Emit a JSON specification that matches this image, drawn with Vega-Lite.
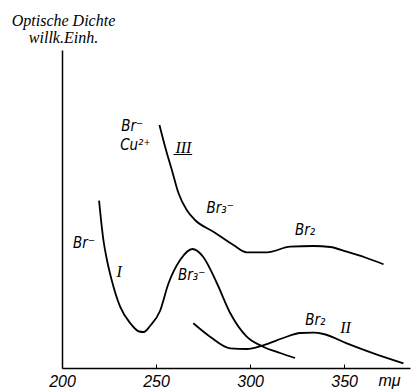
{
  "$schema": "https://vega.github.io/schema/vega-lite/v6.json",
  "width": 348,
  "height": 318,
  "autosize": {"type": "none"},
  "padding": {"left": 62, "top": 50, "right": 10, "bottom": 23},
  "background": "white",
  "config": {"view": {"stroke": null}},
  "datasets": {
    "curves": [
      {"s": "I", "x": 219.7, "y": 167.3},
      {"s": "I", "x": 222.0, "y": 128},
      {"s": "I", "x": 223.9, "y": 108},
      {"s": "I", "x": 226.4, "y": 88},
      {"s": "I", "x": 230.9, "y": 61.3},
      {"s": "I", "x": 236.2, "y": 45},
      {"s": "I", "x": 241.0, "y": 36.5},
      {"s": "I", "x": 243.5, "y": 36},
      {"s": "I", "x": 246.8, "y": 42},
      {"s": "I", "x": 252.1, "y": 57},
      {"s": "I", "x": 256.5, "y": 84},
      {"s": "I", "x": 262.8, "y": 108},
      {"s": "I", "x": 269.3, "y": 119},
      {"s": "I", "x": 275.0, "y": 111.3},
      {"s": "I", "x": 282.3, "y": 85},
      {"s": "I", "x": 289.4, "y": 55},
      {"s": "I", "x": 298.2, "y": 31.3},
      {"s": "I", "x": 306.9, "y": 21.3},
      {"s": "I", "x": 316.0, "y": 15},
      {"s": "I", "x": 323.9, "y": 10},
      {"s": "II", "x": 269.8, "y": 44.7},
      {"s": "II", "x": 278.7, "y": 31.3},
      {"s": "II", "x": 289.4, "y": 19.7},
      {"s": "II", "x": 298.2, "y": 19},
      {"s": "II", "x": 306.9, "y": 22.7},
      {"s": "II", "x": 317.6, "y": 30},
      {"s": "II", "x": 326.6, "y": 35},
      {"s": "II", "x": 333.7, "y": 35.3},
      {"s": "II", "x": 339.0, "y": 34},
      {"s": "II", "x": 351.4, "y": 24.7},
      {"s": "II", "x": 365.6, "y": 14.7},
      {"s": "II", "x": 381.5, "y": 4.7},
      {"s": "III", "x": 251.8, "y": 243},
      {"s": "III", "x": 254.8, "y": 221.3},
      {"s": "III", "x": 258.4, "y": 198},
      {"s": "III", "x": 261.9, "y": 175},
      {"s": "III", "x": 266.3, "y": 158},
      {"s": "III", "x": 270.7, "y": 148},
      {"s": "III", "x": 280.5, "y": 136.3},
      {"s": "III", "x": 291.1, "y": 123},
      {"s": "III", "x": 298.2, "y": 115.7},
      {"s": "III", "x": 308.9, "y": 115.7},
      {"s": "III", "x": 321.3, "y": 121.3},
      {"s": "III", "x": 333.7, "y": 122},
      {"s": "III", "x": 342.6, "y": 121},
      {"s": "III", "x": 351.4, "y": 116.3},
      {"s": "III", "x": 361.2, "y": 110.5},
      {"s": "III", "x": 370.9, "y": 103.7}
    ],
    "labels": [
      {"t": "Br⁻", "x": 205.9, "y": 120, "f": "sans"},
      {"t": "I", "x": 229.0, "y": 91, "f": "roman"},
      {"t": "Br₃⁻", "x": 261.7, "y": 88, "f": "sans"},
      {"t": "Br⁻", "x": 231.5, "y": 237, "f": "sans"},
      {"t": "Cu²⁺", "x": 230.9, "y": 218, "f": "sans"},
      {"t": "I̲I̲I̲", "x": 260.3, "y": 215, "f": "roman"},
      {"t": "Br₃⁻", "x": 276.8, "y": 155, "f": "sans"},
      {"t": "Br₂", "x": 323.9, "y": 133, "f": "sans"},
      {"t": "Br₂", "x": 329.3, "y": 43, "f": "sans"},
      {"t": "II", "x": 347.9, "y": 35, "f": "roman"}
    ]
  },
  "layer": [
    {
      "data": {"name": "curves"},
      "mark": {"type": "line", "color": "black", "strokeWidth": 1.8, "interpolate": "monotone"},
      "encoding": {
        "x": {
          "field": "x", "type": "quantitative",
          "scale": {"domain": [200, 385], "nice": false, "zero": false},
          "axis": {
            "values": [200, 250, 300, 350],
            "grid": false,
            "domainColor": "black", "domainWidth": 1.5,
            "tickColor": "black", "tickSize": -4, "tickWidth": 1,
            "labelFont": "Liberation Sans", "labelFontStyle": "italic", "labelFontSize": 16,
            "labelColor": "black", "labelPadding": 9, "labelFlush": false,
            "title": "mμ", "titleFont": "Liberation Sans", "titleFontStyle": "italic",
            "titleFontWeight": "normal", "titleFontSize": 16, "titleColor": "black",
            "titleX": 327, "titleY": 17, "titleAlign": "center", "titleBaseline": "alphabetic"
          }
        },
        "y": {
          "field": "y", "type": "quantitative",
          "scale": {"domain": [0, 318], "nice": false},
          "axis": {
            "grid": false, "ticks": false, "labels": false,
            "domainColor": "black", "domainWidth": 1.5,
            "title": ["Optische Dichte", "willk.Einh."],
            "titleAngle": 0, "titleX": 1, "titleY": -25,
            "titleAlign": "center", "titleBaseline": "alphabetic",
            "titleFont": "Liberation Sans Narrow", "titleFontStyle": "italic",
            "titleFontWeight": "normal", "titleFontSize": 16, "titleColor": "black",
            "titleLineHeight": 17
          }
        },
        "detail": {"field": "s", "type": "nominal"}
      }
    },
    {
      "data": {"name": "labels"},
      "transform": [{"filter": "datum.f === 'sans'"}],
      "mark": {"type": "text", "align": "left", "baseline": "alphabetic", "font": "DejaVu Sans Condensed", "fontStyle": "italic", "fontSize": 15, "color": "black"},
      "encoding": {
        "x": {"field": "x", "type": "quantitative"},
        "y": {"field": "y", "type": "quantitative"},
        "text": {"field": "t"}
      }
    },
    {
      "data": {"name": "labels"},
      "transform": [{"filter": "datum.f === 'roman'"}],
      "mark": {"type": "text", "align": "left", "baseline": "alphabetic", "font": "Liberation Serif", "fontStyle": "italic", "fontSize": 16, "color": "black"},
      "encoding": {
        "x": {"field": "x", "type": "quantitative"},
        "y": {"field": "y", "type": "quantitative"},
        "text": {"field": "t"}
      }
    }
  ]
}
